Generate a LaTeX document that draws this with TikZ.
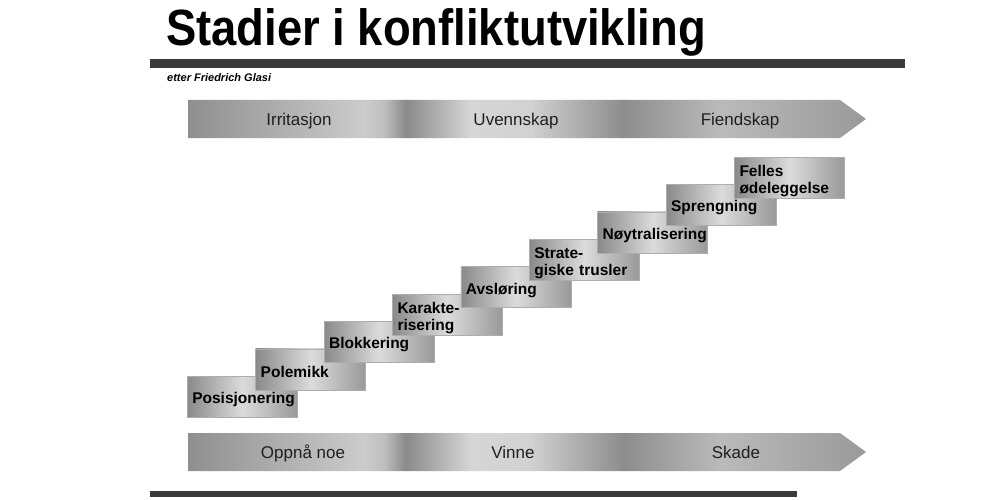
\documentclass[tikz,border=0pt]{standalone}
\usepackage{fontspec}
\setmainfont{Liberation Sans}
\newfontfamily\titlefont[FakeStretch=0.89]{Liberation Sans}

\tikzset{
  stage/.style={draw=black!32, line width=0.6pt, left color=black!46, right color=black!40, middle color=black!14,
    anchor=north west, minimum width=110pt, minimum height=41pt},
  stage text/.style={text width=100pt, inner sep=0pt, align=left, font=\bfseries\fontsize{15.5}{17}\selectfont},
  band label/.style={text=black!88, font=\fontsize{17}{19}\selectfont, inner sep=0pt, anchor=base},
  bar/.style={fill=black!77}
}

\begin{document}
\begin{tikzpicture}[x=1pt, y=-1pt]

    % Fix the page size
    \path[fill=white] (0, 0) rectangle (1000, 500);
    \useasboundingbox (0, 0) rectangle (1000, 500);

    % Title and the two bars
    \node[anchor=base west, inner sep=0pt, font=\titlefont\bfseries\fontsize{51}{55}\selectfont] (title) at (166, 46) {Stadier i konfliktutvikling};
    \fill[bar] (150, 59) rectangle (905, 68);
    \fill[bar] (150, 491) rectangle (797, 497);
    \node[anchor=base west, inner sep=0pt, font=\bfseries\itshape\fontsize{11}{13}\selectfont] (source) at (167, 82) {etter Friedrich Glasi};

    % Draw the two shaded bands with an arrow head
    \foreach \top in {100, 433} {
        \begin{scope}
            \clip (188, \top) -- (840, \top) -- (866, \top + 19) -- (840, \top + 38) -- (188, \top + 38) -- cycle;
            \foreach \xa/\xb/\ca/\cb in {188/365/44/20, 364/386/20/26, 385/406/26/46, 405/471/46/16, 470/531/16/18,
                    530/624/18/45, 623/721/45/27, 720/870/27/40} {
                \shade[left color=black!\ca, right color=black!\cb] (\xa, \top) rectangle (\xb, \top + 38);
            }
        \end{scope}
    }

    % Labels on the bands
    \node[band label] (irritasjon) at (299, 125) {Irritasjon};
    \node[band label] (uvennskap) at (516, 125) {Uvennskap};
    \node[band label] (fiendskap) at (740, 125) {Fiendskap};
    \node[band label] (oppnaa) at (303, 458) {Oppnå noe};
    \node[band label] (vinne) at (513, 458) {Vinne};
    \node[band label] (skade) at (736, 458) {Skade};

    % The nine stages as a staircase, each one on top of the one before
    \foreach \lbl [count=\i from 0] in {Posisjonering, Polemikk, Blokkering, {Karakte-\\risering}, Avsløring,
            {Strate-\\giske trusler}, Nøytralisering, Sprengning, {Felles\\ødeleggelse}} {
        \node[stage] (stage\i) at (187 + 68.4*\i, 376 - 27.4*\i) {};
        \node[stage text] (label\i) at ([yshift=-3pt]stage\i.center) {\lbl};
    }

\end{tikzpicture}
\end{document}
